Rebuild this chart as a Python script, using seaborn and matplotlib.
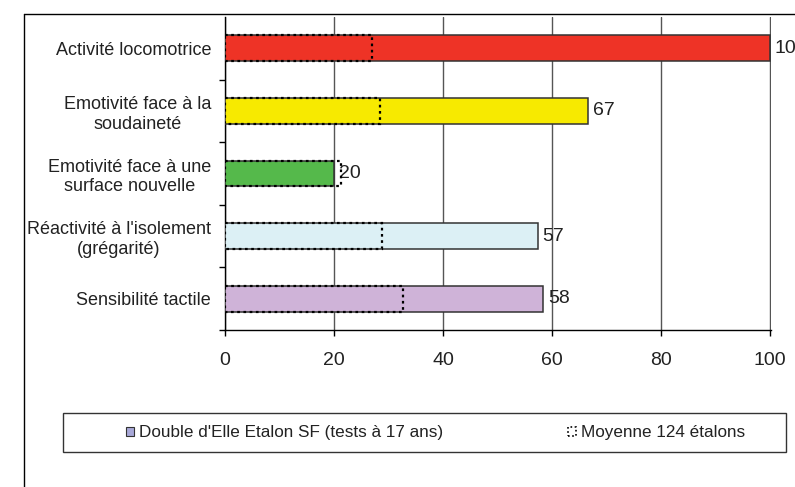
import matplotlib
matplotlib.use("Agg")
import matplotlib.pyplot as plt
import matplotlib.patches as mpatches
from matplotlib.lines import Line2D
import seaborn as sns
import pandas as pd

# Données
categories = ["Activité locomotrice",
              "Emotivité face à la\nsoudaineté",
              "Emotivité face à une\nsurface nouvelle",
              "Réactivité à l'isolement\n(grégarité)",
              "Sensibilité tactile"]
cheval = [100, 66.7, 20, 57.4, 58.4]        # Double d'Elle Etalon SF
moyenne = [27, 28.4, 21.2, 28.8, 32.6]      # Moyenne 124 étalons
couleurs = ["#EE3326", "#F7EA00", "#55B94B", "#DCF0F5", "#CFB3D8"]
x_ticks = [0, 20, 40, 60, 80, 100]

df = pd.DataFrame({"cat": categories, "cheval": cheval, "moyenne": moyenne})

sns.set_theme(style="white")
plt.rcParams["font.family"] = ["Liberation Sans", "DejaVu Sans"]

fig = plt.figure(figsize=(7.95, 4.87), dpi=100)
ax = fig.add_axes([225 / 795, 1 - 330 / 487, 546 / 795, 313 / 487])

# barres principales
sns.barplot(data=df, x="cheval", y="cat", hue="cat", palette=couleurs,
            saturation=1, legend=False, width=0.41, edgecolor="#333333",
            linewidth=1.1, ax=ax, zorder=3)
bar_cont = list(ax.containers)

# moyenne en pointillés
sns.barplot(data=df, x="moyenne", y="cat", fill=False, color="black",
            width=0.41, linewidth=1.6, linestyle=(0, (1.2, 1.6)),
            ax=ax, zorder=4)

for c in bar_cont:
    ax.bar_label(c, fmt="%.0f", padding=3.5, fontsize=14, color="#222222")

ax.set_xlim(0, 100.2)
ax.set_ylim(4.5, -0.5)
ax.set_xticks(x_ticks)
ax.set_xlabel("")
ax.set_ylabel("")
ax.grid(axis="x", color="#555555", linewidth=1, zorder=0)
ax.set_axisbelow(True)

for s in ["top", "right"]:
    ax.spines[s].set_visible(False)
for s in ["left", "bottom"]:
    ax.spines[s].set_color("black")
    ax.spines[s].set_linewidth(1)

ax.tick_params(axis="x", which="major", direction="out", length=4.5,
               width=1, color="black", labelsize=14, pad=11,
               labelcolor="#222222", bottom=True)
ax.tick_params(axis="y", which="major", length=0, pad=10, labelsize=13,
               labelcolor="#222222")
ax.set_yticks([0.5, 1.5, 2.5, 3.5, 4.5], minor=True)
ax.tick_params(axis="y", which="minor", direction="out", length=4,
               width=1, color="black", left=True)
for lab in ax.get_yticklabels():
    lab.set_multialignment("center")

# cadre du graphique (coupé à droite et en bas)
fig.add_artist(Line2D([24 / 795, 24 / 795], [0, 1 - 14 / 487],
                      color="black", linewidth=1))
fig.add_artist(Line2D([24 / 795, 1], [1 - 14 / 487, 1 - 14 / 487],
                      color="black", linewidth=1))

# légende
fig.add_artist(mpatches.Rectangle((63 / 795, 1 - 452 / 487), 723 / 795,
                                  39 / 487, transform=fig.transFigure,
                                  facecolor="white", edgecolor="#333333",
                                  linewidth=1))
handles = [mpatches.Patch(facecolor="#A8A8D8", edgecolor="#333333",
                          linewidth=0.8,
                          label="Double d'Elle Etalon SF (tests à 17 ans)"),
           mpatches.Patch(facecolor="none", edgecolor="black",
                          linewidth=1.2, linestyle=(0, (1, 1.5)),
                          label="Moyenne 124 étalons")]
fig.legend(handles=handles, loc="center left",
           bbox_to_anchor=(111 / 795, 1 - 433 / 487), ncol=2,
           frameon=False, fontsize=12.3, handlelength=0.45, handleheight=0.5,
           handletextpad=0.3, columnspacing=7.3, labelcolor="#222222")

fig.savefig("out.png", dpi=100)
